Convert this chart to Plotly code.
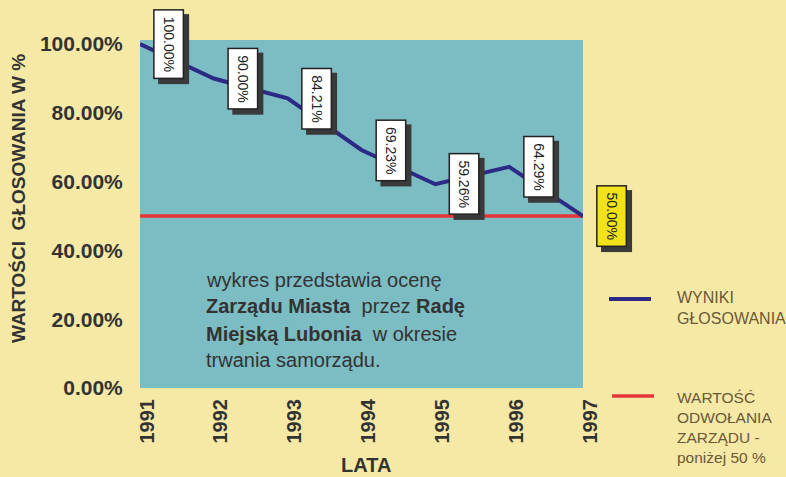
import plotly.graph_objects as go

years = [1991, 1992, 1993, 1994, 1995, 1996, 1997]
votes = [100.00, 90.00, 84.21, 69.23, 59.26, 64.29, 50.00]
threshold = [50.0] * len(years)
label_texts = ["100.00%", "90.00%", "84.21%", "69.23%", "59.26%", "64.29%", "50.00%"]
y_ticks = [0, 20, 40, 60, 80, 100]
y_tick_labels = ["0.00%", "20.00%", "40.00%", "60.00%", "80.00%", "100.00%"]
desc_lines = ["wykres przedstawia ocenę",
              "<b>Zarządu Miasta</b>  przez <b>Radę</b>",
              "<b>Miejską Lubonia</b>  w okresie",
              "trwania samorządu."]

FONT = "Arial, Liberation Sans, sans-serif"
PAPER = "#f6e9a6"
PLOT = "#7cbcc3"
TXT = "#333333"
BLUE = "#2b2a86"
RED = "#e4363a"
LEG = "#6a5838"

L, R, T, B = 140, 583, 40, 388


def px_x(px):
    return (px - L) / (R - L)


def px_y(py):
    return (B - py) / (B - T)


fig = go.Figure()
fig.add_trace(go.Scatter(x=years, y=threshold, mode="lines",
                         line=dict(color=RED, width=3.5),
                         name="WARTOŚĆ ODWOŁANIA ZARZĄDU - poniżej 50 %", cliponaxis=False))
fig.add_trace(go.Scatter(x=years, y=votes, mode="lines",
                         line=dict(color=BLUE, width=4),
                         name="WYNIKI GŁOSOWANIA", cliponaxis=False))

annotations = []
for i, (yr, v, t) in enumerate(zip(years, votes, label_texts)):
    fill = "#f2e21c" if i == len(years) - 1 else "white"
    annotations.append(dict(x=yr, y=v, xref="x", yref="y", text=t, showarrow=False,
                            textangle=90, xshift=34, yshift=-5,
                            font=dict(family=FONT, size=14, color="#3a3a3a"),
                            bgcolor="#3a3a3a", bordercolor="#3a3a3a", borderwidth=1.5, borderpad=6))
    annotations.append(dict(x=yr, y=v, xref="x", yref="y", text=t, showarrow=False,
                            textangle=90, xshift=29, yshift=0,
                            font=dict(family=FONT, size=14, color="#222222"),
                            bgcolor=fill, bordercolor="#222222", borderwidth=1.5, borderpad=6))

for line, ypx in zip(desc_lines, [280, 306, 334, 360]):
    annotations.append(dict(x=px_x(204), y=px_y(ypx), xref="paper", yref="paper", text=line,
                            showarrow=False, xanchor="left", yanchor="middle", align="left",
                            font=dict(family=FONT, size=20, color=TXT)))

annotations.append(dict(x=px_x(18), y=px_y(199), xref="paper", yref="paper",
                        text="<b>WARTOŚCI  GŁOSOWANIA W %</b>", showarrow=False, textangle=-90,
                        xanchor="center", yanchor="middle",
                        font=dict(family=FONT, size=19, color=TXT)))
annotations.append(dict(x=px_x(366), y=px_y(465), xref="paper", yref="paper",
                        text="<b>LATA</b>", showarrow=False, xanchor="center", yanchor="middle",
                        font=dict(family=FONT, size=20, color=TXT)))

annotations.append(dict(x=px_x(675), y=px_y(308), xref="paper", yref="paper",
                        text="WYNIKI<br>GŁOSOWANIA", showarrow=False, xanchor="left", yanchor="middle",
                        align="left", font=dict(family=FONT, size=16, color=LEG)))
annotations.append(dict(x=px_x(675), y=px_y(427), xref="paper", yref="paper",
                        text="WARTOŚĆ<br>ODWOŁANIA<br>ZARZĄDU -<br>poniżej 50 %", showarrow=False,
                        xanchor="left", yanchor="middle", align="left",
                        font=dict(family=FONT, size=15.5, color=LEG)))

shapes = [
    dict(type="line", xref="paper", yref="paper", x0=px_x(609), x1=px_x(651), y0=px_y(299), y1=px_y(299),
         line=dict(color=BLUE, width=4)),
    dict(type="line", xref="paper", yref="paper", x0=px_x(612), x1=px_x(654), y0=px_y(396), y1=px_y(396),
         line=dict(color=RED, width=3.5)),
]

fig.update_layout(
    width=786, height=477,
    margin=dict(l=L, r=786 - R, t=T, b=477 - B, pad=0),
    paper_bgcolor=PAPER, plot_bgcolor=PLOT,
    showlegend=False,
    annotations=annotations,
    shapes=shapes,
    xaxis=dict(range=[1991, 1997], tickmode="array", tickvals=years, ticktext=[str(y) for y in years],
               tickangle=-90, showgrid=False, zeroline=False, showline=False,
               ticks="outside", ticklen=2, tickcolor=PAPER, ticklabelshift=7,
               tickfont=dict(family=FONT, size=20, color=TXT, weight="bold")),
    yaxis=dict(range=[0, 101.2], tickmode="array", tickvals=y_ticks, ticktext=y_tick_labels,
               showgrid=False, zeroline=False, showline=False,
               ticks="outside", ticklen=12, tickcolor=PAPER,
               tickfont=dict(family=FONT, size=21, color=TXT, weight="bold")),
)

fig.write_html("out.html", config={"displayModeBar": False},
               post_script="document.body.style.margin='0';document.body.style.padding='0';")
